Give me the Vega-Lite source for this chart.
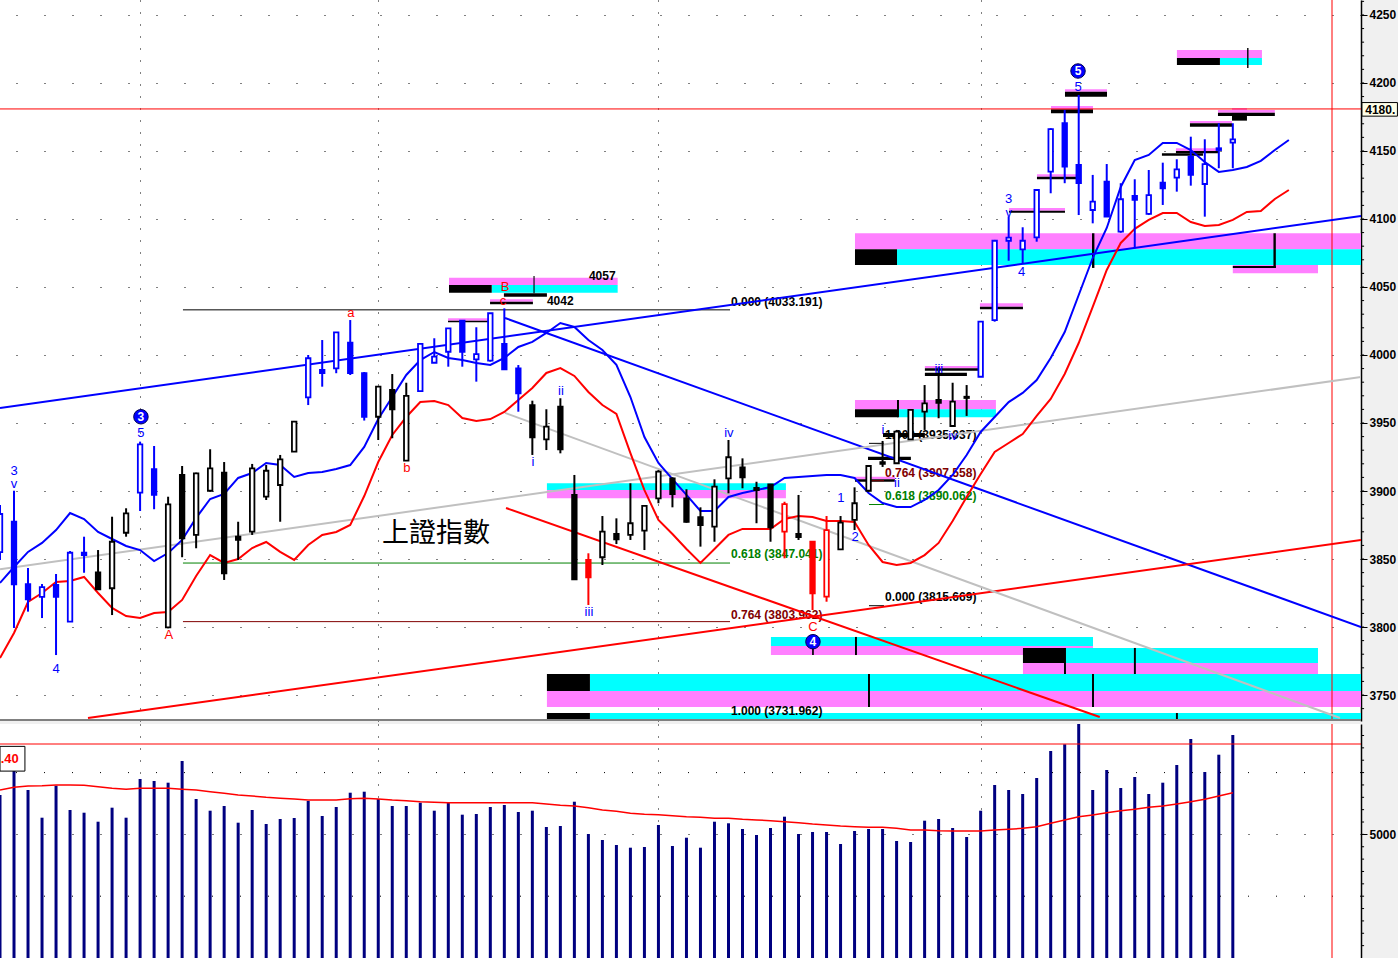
{
"$schema":"https://vega.github.io/schema/vega-lite/v6.json",
"background":"#f0f0f0",
"padding":0,
"spacing":3,
"config":{"view":{"fill":"white","stroke":null},"scale":{"continuousPadding":0}},
"datasets":{
"candles":[
{"i":0,"o":3855.1,"h":3889.7,"l":3849.3,"c":3883.1,"g":"blue"},
{"i":1,"o":3877.4,"h":3900.2,"l":3799.3,"c":3831.4,"g":"blue"},
{"i":2,"o":3831.6,"h":3843.4,"l":3811.3,"c":3820.4,"g":"blue"},
{"i":3,"o":3822.1,"h":3831.6,"l":3806.6,"c":3829.4,"g":"blue"},
{"i":4,"o":3830.9,"h":3839.0,"l":3779.4,"c":3822.1,"g":"blue"},
{"i":5,"o":3803.9,"h":3855.9,"l":3803.7,"c":3854.6,"g":"blue"},
{"i":6,"o":3854.6,"h":3866.4,"l":3839.9,"c":3852.9,"g":"blue"},
{"i":7,"o":3840.2,"h":3856.6,"l":3827.2,"c":3827.7,"g":"black"},
{"i":8,"o":3828.5,"h":3881.1,"l":3808.8,"c":3862.7,"g":"black"},
{"i":9,"o":3869.3,"h":3887.3,"l":3866.4,"c":3883.6,"g":"black"},
{"i":10,"o":3898.8,"h":3936.3,"l":3885.3,"c":3934.3,"g":"blue"},
{"i":11,"o":3916.0,"h":3933.1,"l":3886.6,"c":3897.1,"g":"blue"},
{"i":12,"o":3799.8,"h":3895.8,"l":3799.1,"c":3890.2,"g":"black"},
{"i":13,"o":3911.8,"h":3918.4,"l":3851.3,"c":3865.2,"g":"black"},
{"i":14,"o":3867.7,"h":3913.5,"l":3857.9,"c":3913.0,"g":"black"},
{"i":15,"o":3900.2,"h":3930.7,"l":3899.5,"c":3916.7,"g":"black"},
{"i":16,"o":3913.5,"h":3921.3,"l":3834.6,"c":3839.5,"g":"black"},
{"i":17,"o":3866.4,"h":3877.4,"l":3849.3,"c":3864.0,"g":"black"},
{"i":18,"o":3870.1,"h":3919.9,"l":3867.7,"c":3916.7,"g":"black"},
{"i":19,"o":3895.8,"h":3919.1,"l":3893.4,"c":3914.9,"g":"black"},
{"i":20,"o":3904.4,"h":3926.5,"l":3877.4,"c":3923.3,"g":"black"},
{"i":21,"o":3928.9,"h":3951.5,"l":3928.7,"c":3951.0,"g":"black"},
{"i":22,"o":3968.9,"h":4000.0,"l":3963.2,"c":3997.6,"g":"blue"},
{"i":23,"o":3989.0,"h":4011.0,"l":3976.7,"c":3986.6,"g":"blue"},
{"i":24,"o":3990.2,"h":4016.7,"l":3986.6,"c":4016.7,"g":"blue"},
{"i":25,"o":4009.1,"h":4025.7,"l":3985.3,"c":3986.6,"g":"blue"},
{"i":26,"o":3986.6,"h":3987.5,"l":3951.8,"c":3954.6,"g":"blue"},
{"i":27,"o":3954.6,"h":3976.7,"l":3937.5,"c":3976.7,"g":"black"},
{"i":28,"o":3974.3,"h":3986.0,"l":3938.8,"c":3960.1,"g":"black"},
{"i":29,"o":3922.3,"h":3979.6,"l":3922.3,"c":3969.9,"g":"black"},
{"i":30,"o":3973.5,"h":4008.6,"l":3973.0,"c":4008.1,"g":"blue"},
{"i":31,"o":3994.3,"h":4012.3,"l":3994.3,"c":3998.8,"g":"blue"},
{"i":32,"o":4002.4,"h":4019.6,"l":3991.4,"c":4019.6,"g":"blue"},
{"i":33,"o":4025.2,"h":4025.2,"l":3991.4,"c":4002.4,"g":"blue"},
{"i":34,"o":3996.8,"h":4020.4,"l":3980.4,"c":4000.7,"g":"blue"},
{"i":35,"o":3995.8,"h":4030.7,"l":3995.1,"c":4030.7,"g":"blue"},
{"i":36,"o":4008.1,"h":4034.3,"l":3989.5,"c":3989.5,"g":"blue"},
{"i":37,"o":3990.2,"h":3992.6,"l":3958.3,"c":3971.8,"g":"blue"},
{"i":38,"o":3963.2,"h":3966.4,"l":3926.5,"c":3939.5,"g":"black"},
{"i":39,"o":3938.0,"h":3960.1,"l":3930.1,"c":3947.3,"g":"black"},
{"i":40,"o":3962.0,"h":3968.2,"l":3927.7,"c":3930.7,"g":"black"},
{"i":41,"o":3897.1,"h":3911.8,"l":3834.6,"c":3835.1,"g":"black"},
{"i":42,"o":3849.3,"h":3854.2,"l":3816.2,"c":3836.5,"g":"red"},
{"i":43,"o":3851.3,"h":3881.6,"l":3845.6,"c":3870.1,"g":"black"},
{"i":44,"o":3868.4,"h":3879.9,"l":3861.0,"c":3864.5,"g":"black"},
{"i":45,"o":3867.7,"h":3905.7,"l":3864.0,"c":3876.3,"g":"black"},
{"i":46,"o":3870.8,"h":3889.0,"l":3856.6,"c":3889.0,"g":"black"},
{"i":47,"o":3894.6,"h":3915.4,"l":3891.0,"c":3914.2,"g":"black"},
{"i":48,"o":3909.3,"h":3910.1,"l":3888.0,"c":3897.8,"g":"black"},
{"i":49,"o":3894.6,"h":3901.3,"l":3876.7,"c":3877.4,"g":"black"},
{"i":50,"o":3880.7,"h":3888.0,"l":3859.1,"c":3875.0,"g":"black"},
{"i":51,"o":3873.8,"h":3908.6,"l":3862.7,"c":3903.2,"g":"black"},
{"i":52,"o":3909.3,"h":3937.5,"l":3898.3,"c":3924.8,"g":"black"},
{"i":53,"o":3917.4,"h":3924.0,"l":3902.0,"c":3910.1,"g":"black"},
{"i":54,"o":3902.2,"h":3906.8,"l":3876.3,"c":3900.7,"g":"black"},
{"i":55,"o":3904.9,"h":3905.2,"l":3862.7,"c":3873.3,"g":"black"},
{"i":56,"o":3870.1,"h":3892.1,"l":3850.5,"c":3890.4,"g":"red"},
{"i":57,"o":3868.4,"h":3897.1,"l":3864.0,"c":3866.2,"g":"black"},
{"i":58,"o":3862.7,"h":3862.7,"l":3812.5,"c":3824.8,"g":"red"},
{"i":59,"o":3822.3,"h":3881.6,"l":3818.6,"c":3871.3,"g":"red"},
{"i":60,"o":3857.1,"h":3881.6,"l":3856.6,"c":3876.7,"g":"black"},
{"i":61,"o":3878.7,"h":3902.7,"l":3871.3,"c":3891.0,"g":"black"},
{"i":62,"o":3900.2,"h":3919.1,"l":3899.5,"c":3918.4,"g":"black"},
{"i":63,"o":3921.3,"h":3936.8,"l":3917.7,"c":3919.9,"g":"black"},
{"i":64,"o":3920.4,"h":3944.9,"l":3920.4,"c":3943.6,"g":"black"},
{"i":65,"o":3938.0,"h":3960.1,"l":3937.5,"c":3959.6,"g":"black"},
{"i":66,"o":3958.3,"h":3977.9,"l":3944.9,"c":3964.5,"g":"black"},
{"i":67,"o":3966.9,"h":3991.0,"l":3953.5,"c":3964.9,"g":"black"},
{"i":68,"o":3947.8,"h":3979.6,"l":3947.3,"c":3965.7,"g":"black"},
{"i":69,"o":3968.4,"h":3977.9,"l":3955.2,"c":3969.3,"g":"black"},
{"i":70,"o":3984.0,"h":4024.5,"l":3984.0,"c":4024.5,"g":"blue"},
{"i":71,"o":4025.7,"h":4084.6,"l":4024.5,"c":4084.0,"g":"blue"},
{"i":72,"o":4084.0,"h":4101.7,"l":4069.3,"c":4086.3,"g":"blue"},
{"i":73,"o":4077.7,"h":4093.9,"l":4067.4,"c":4084.0,"g":"blue"},
{"i":74,"o":4086.5,"h":4121.3,"l":4083.3,"c":4121.3,"g":"blue"},
{"i":75,"o":4134.8,"h":4166.7,"l":4118.9,"c":4166.0,"g":"blue"},
{"i":76,"o":4170.4,"h":4180.1,"l":4126.3,"c":4138.5,"g":"blue"},
{"i":77,"o":4139.7,"h":4191.2,"l":4102.9,"c":4126.3,"g":"blue"},
{"i":78,"o":4106.6,"h":4132.4,"l":4096.8,"c":4112.7,"g":"blue"},
{"i":79,"o":4127.4,"h":4140.4,"l":4101.7,"c":4101.7,"g":"blue"},
{"i":80,"o":4090.7,"h":4126.3,"l":4089.9,"c":4114.5,"g":"blue"},
{"i":81,"o":4116.9,"h":4129.2,"l":4078.5,"c":4114.0,"g":"blue"},
{"i":82,"o":4103.7,"h":4136.0,"l":4102.9,"c":4117.6,"g":"blue"},
{"i":83,"o":4126.7,"h":4141.4,"l":4110.3,"c":4122.6,"g":"blue"},
{"i":84,"o":4130.4,"h":4143.9,"l":4120.1,"c":4136.5,"g":"blue"},
{"i":85,"o":4145.8,"h":4160.5,"l":4124.5,"c":4132.4,"g":"blue"},
{"i":86,"o":4125.7,"h":4158.6,"l":4101.7,"c":4140.4,"g":"blue"},
{"i":87,"o":4152.0,"h":4170.4,"l":4137.3,"c":4150.7,"g":"blue"},
{"i":88,"o":4156.1,"h":4170.4,"l":4137.3,"c":4158.6,"g":"blue"}
],
"ma":[
{"i":0,"b":3832.4,"r":3777.2},{"i":1,"b":3844.1,"r":3795.6},{"i":2,"b":3855.2,"r":3818.4},{"i":3,"b":3861.8,"r":3825.0},
{"i":4,"b":3871.3,"r":3833.1},{"i":5,"b":3883.8,"r":3833.8},{"i":6,"b":3879.4,"r":3836.8},{"i":7,"b":3869.9,"r":3825.0},
{"i":8,"b":3864.7,"r":3814.0},{"i":9,"b":3859.6,"r":3808.1},{"i":10,"b":3856.6,"r":3806.6},{"i":11,"b":3848.5,"r":3810.3},
{"i":12,"b":3854.4,"r":3811.0},{"i":13,"b":3864.0,"r":3819.9},{"i":14,"b":3880.2,"r":3837.5},{"i":15,"b":3894.1,"r":3852.9},
{"i":16,"b":3897.8,"r":3847.1},{"i":17,"b":3909.6,"r":3850.0},{"i":18,"b":3913.2,"r":3858.1},{"i":19,"b":3920.6,"r":3862.5},
{"i":20,"b":3919.1,"r":3855.2},{"i":21,"b":3910.3,"r":3849.3},{"i":22,"b":3913.2,"r":3860.3},{"i":23,"b":3914.0,"r":3867.7},
{"i":24,"b":3916.2,"r":3869.9},{"i":25,"b":3919.1,"r":3875.0},{"i":26,"b":3932.4,"r":3896.3},{"i":27,"b":3952.9,"r":3921.3},
{"i":28,"b":3969.1,"r":3941.2},{"i":29,"b":3985.3,"r":3954.4},{"i":30,"b":3996.3,"r":3965.4},{"i":31,"b":4002.2,"r":3966.2},
{"i":32,"b":3997.8,"r":3963.2},{"i":33,"b":3996.3,"r":3953.7},{"i":34,"b":3994.1,"r":3951.5},{"i":35,"b":3992.7,"r":3952.9},
{"i":36,"b":3997.8,"r":3958.1},{"i":37,"b":4005.9,"r":3966.9},{"i":38,"b":4009.6,"r":3975.7},{"i":39,"b":4016.2,"r":3986.8},
{"i":40,"b":4023.5,"r":3990.4},{"i":41,"b":4020.6,"r":3984.6},{"i":42,"b":4011.0,"r":3972.8},{"i":43,"b":4003.7,"r":3963.2},
{"i":44,"b":3992.7,"r":3956.6},{"i":45,"b":3969.1,"r":3927.9},{"i":46,"b":3939.7,"r":3900.7},{"i":47,"b":3920.6,"r":3878.7},
{"i":48,"b":3908.8,"r":3868.4},{"i":49,"b":3897.1,"r":3857.4},{"i":50,"b":3885.3,"r":3847.1},{"i":51,"b":3885.3,"r":3857.4},
{"i":52,"b":3895.6,"r":3867.7},{"i":53,"b":3898.5,"r":3872.1},{"i":54,"b":3900.7,"r":3872.1},{"i":55,"b":3902.9,"r":3872.1},
{"i":56,"b":3909.6,"r":3879.4},{"i":57,"b":3910.3,"r":3881.6},{"i":58,"b":3911.0,"r":3880.9},{"i":59,"b":3911.8,"r":3877.9},
{"i":60,"b":3911.8,"r":3877.9},{"i":61,"b":3909.6,"r":3877.2},{"i":62,"b":3898.5,"r":3860.3},{"i":63,"b":3891.2,"r":3847.8},
{"i":64,"b":3888.2,"r":3845.6},{"i":65,"b":3888.2,"r":3847.1},{"i":66,"b":3893.4,"r":3852.9},{"i":67,"b":3900.7,"r":3861.8},
{"i":68,"b":3911.8,"r":3877.9},{"i":69,"b":3926.5,"r":3895.6},{"i":70,"b":3943.4,"r":3912.5},{"i":71,"b":3954.4,"r":3928.7},
{"i":72,"b":3965.4,"r":3935.3},{"i":73,"b":3972.1,"r":3941.9},{"i":74,"b":3981.6,"r":3955.2},{"i":75,"b":3997.8,"r":3967.7},
{"i":76,"b":4016.9,"r":3986.0},{"i":77,"b":4044.1,"r":4008.8},{"i":78,"b":4071.3,"r":4035.3},{"i":79,"b":4093.4,"r":4062.5},
{"i":80,"b":4123.5,"r":4082.4},{"i":81,"b":4143.4,"r":4092.7},{"i":82,"b":4147.1,"r":4099.3},{"i":83,"b":4155.9,"r":4104.4},
{"i":84,"b":4155.9,"r":4104.4},{"i":85,"b":4150.7,"r":4097.8},{"i":86,"b":4141.9,"r":4094.9},{"i":87,"b":4134.6,"r":4095.6},
{"i":88,"b":4136.0,"r":4099.3},{"i":89,"b":4138.2,"r":4105.2},{"i":90,"b":4142.7,"r":4105.9},{"i":91,"b":4150.7,"r":4114.7},
{"i":92,"b":4158.1,"r":4121.3}
],
"trends":[
{"id":"ub","i":0,"p":3961.0,"k":"blue"},{"id":"ub","i":97.15,"p":4102.2,"k":"blue"},
{"id":"db","i":36.05,"p":4027.2,"k":"blue"},{"id":"db","i":97.15,"p":3800.0,"k":"blue"},
{"id":"ur","i":6.28,"p":3733.1,"k":"red"},{"id":"ur","i":97.15,"p":3864.0,"k":"red"},
{"id":"dr","i":36.12,"p":3887.5,"k":"red"},{"id":"dr","i":78.5,"p":3733.8,"k":"red"},
{"id":"ug","i":0,"p":3842.4,"k":"gray"},{"id":"ug","i":97.15,"p":3983.8,"k":"gray"},
{"id":"dg","i":36.05,"p":3957.4,"k":"gray"},{"id":"dg","i":95.65,"p":3733.1,"k":"gray"}
],
"fibs":[
{"x1":13.06,"x2":52.11,"p":4033.191,"k":"black"},
{"x1":13.06,"x2":52.11,"p":3847.041,"k":"green"},
{"x1":13.06,"x2":52.11,"p":3803.962,"k":"darkred"},
{"x1":62.03,"x2":63.1,"p":3935.037,"k":"black"},
{"x1":62.03,"x2":63.1,"p":3907.558,"k":"darkred"},
{"x1":62.03,"x2":63.1,"p":3890.062,"k":"green"},
{"x1":62.03,"x2":63.1,"p":3815.669,"k":"black"},
{"x1":0,"x2":97.15,"p":4180.9,"k":"red"}
],
"boxes":[
{"x1":84.01,"x2":90.08,"p1":4224.3,"p2":4218.4,"k":"magenta"},
{"x1":87.08,"x2":90.08,"p1":4218.4,"p2":4213.2,"k":"cyan"},
{"x1":84.01,"x2":87.08,"p1":4218.4,"p2":4213.2,"k":"black"},
{"x1":89.02,"x2":89.12,"p1":4225.7,"p2":4211.0,"k":"black"},
{"x1":32.05,"x2":44.09,"p1":4056.8,"p2":4051.5,"k":"magenta"},
{"x1":35.10,"x2":44.09,"p1":4051.5,"p2":4045.8,"k":"cyan"},
{"x1":32.05,"x2":35.10,"p1":4051.5,"p2":4045.8,"k":"black"},
{"x1":35.97,"x2":39.04,"p1":4045.4,"p2":4042.9,"k":"black"},
{"x1":38.08,"x2":38.16,"p1":4058.1,"p2":4045.4,"k":"black"},
{"x1":34.98,"x2":38.04,"p1":4040.9,"p2":4039.2,"k":"magenta"},
{"x1":34.98,"x2":38.04,"p1":4039.2,"p2":4037.3,"k":"black"},
{"x1":31.98,"x2":34.98,"p1":4027.0,"p2":4025.2,"k":"magenta"},
{"x1":31.98,"x2":34.98,"p1":4025.2,"p2":4024.0,"k":"black"},
{"x1":61.03,"x2":97.15,"p1":4089.5,"p2":4077.7,"k":"magenta"},
{"x1":64.03,"x2":97.15,"p1":4077.7,"p2":4066.2,"k":"cyan"},
{"x1":88.0,"x2":94.08,"p1":4066.2,"p2":4060.1,"k":"magenta"},
{"x1":61.03,"x2":64.03,"p1":4077.7,"p2":4066.2,"k":"black"},
{"x1":77.95,"x2":78.12,"p1":4089.5,"p2":4064.0,"k":"black"},
{"x1":90.9,"x2":91.07,"p1":4089.5,"p2":4064.0,"k":"black"},
{"x1":88.0,"x2":91.07,"p1":4065.5,"p2":4064.0,"k":"black"},
{"x1":61.03,"x2":71.09,"p1":3966.9,"p2":3960.1,"k":"magenta"},
{"x1":64.10,"x2":71.09,"p1":3960.1,"p2":3954.2,"k":"cyan"},
{"x1":61.03,"x2":64.10,"p1":3960.1,"p2":3954.2,"k":"black"},
{"x1":64.03,"x2":64.17,"p1":3966.9,"p2":3954.2,"k":"black"},
{"x1":39.04,"x2":56.1,"p1":3905.7,"p2":3900.7,"k":"cyan"},
{"x1":39.04,"x2":56.1,"p1":3900.7,"p2":3894.6,"k":"magenta"},
{"x1":55.03,"x2":78.02,"p1":3792.7,"p2":3786.0,"k":"cyan"},
{"x1":55.03,"x2":78.02,"p1":3786.0,"p2":3779.4,"k":"magenta"},
{"x1":61.03,"x2":61.17,"p1":3792.7,"p2":3779.4,"k":"black"},
{"x1":57.97,"x2":58.09,"p1":3786.0,"p2":3779.4,"k":"black"},
{"x1":76.02,"x2":94.08,"p1":3784.6,"p2":3773.5,"k":"cyan"},
{"x1":73.02,"x2":94.08,"p1":3773.5,"p2":3763.2,"k":"magenta"},
{"x1":73.02,"x2":76.02,"p1":3784.6,"p2":3773.5,"k":"black"},
{"x1":75.95,"x2":76.09,"p1":3784.6,"p2":3763.2,"k":"black"},
{"x1":80.94,"x2":81.08,"p1":3784.6,"p2":3763.2,"k":"black"},
{"x1":42.11,"x2":97.15,"p1":3765.4,"p2":3752.9,"k":"cyan"},
{"x1":39.04,"x2":97.15,"p1":3752.9,"p2":3741.2,"k":"magenta"},
{"x1":42.11,"x2":97.15,"p1":3736.8,"p2":3730.9,"k":"cyan"},
{"x1":39.04,"x2":42.11,"p1":3765.4,"p2":3752.9,"k":"black"},
{"x1":39.04,"x2":42.11,"p1":3736.8,"p2":3730.9,"k":"black"},
{"x1":61.96,"x2":62.1,"p1":3765.4,"p2":3741.2,"k":"black"},
{"x1":77.95,"x2":78.09,"p1":3765.4,"p2":3741.2,"k":"black"},
{"x1":83.94,"x2":84.08,"p1":3736.8,"p2":3730.9,"k":"black"},
{"x1":72.02,"x2":76.02,"p1":4108.1,"p2":4106.1,"k":"magenta"},
{"x1":72.02,"x2":76.02,"p1":4106.1,"p2":4104.6,"k":"black"},
{"x1":69.95,"x2":73.02,"p1":4038.0,"p2":4035.5,"k":"magenta"},
{"x1":69.95,"x2":73.02,"p1":4035.5,"p2":4033.6,"k":"black"},
{"x1":74.02,"x2":77.02,"p1":4132.9,"p2":4131.1,"k":"magenta"},
{"x1":74.02,"x2":77.02,"p1":4131.1,"p2":4129.2,"k":"black"},
{"x1":75.02,"x2":78.02,"p1":4183.1,"p2":4180.7,"k":"magenta"},
{"x1":75.02,"x2":78.02,"p1":4180.7,"p2":4177.7,"k":"black"},
{"x1":76.02,"x2":79.02,"p1":4195.4,"p2":4193.6,"k":"magenta"},
{"x1":76.02,"x2":79.02,"p1":4193.6,"p2":4189.9,"k":"black"},
{"x1":83.94,"x2":86.94,"p1":4152.0,"p2":4150.0,"k":"magenta"},
{"x1":83.94,"x2":86.94,"p1":4150.0,"p2":4148.3,"k":"black"},
{"x1":82.94,"x2":85.87,"p1":4148.3,"p2":4146.5,"k":"black"},
{"x1":84.94,"x2":87.94,"p1":4172.0,"p2":4170.4,"k":"magenta"},
{"x1":84.94,"x2":87.94,"p1":4170.4,"p2":4167.9,"k":"black"},
{"x1":86.94,"x2":91.0,"p1":4180.1,"p2":4178.1,"k":"magenta"},
{"x1":87.94,"x2":89.01,"p1":4181.5,"p2":4178.1,"k":"magenta"},
{"x1":86.94,"x2":91.0,"p1":4178.1,"p2":4175.7,"k":"black"},
{"x1":87.94,"x2":89.01,"p1":4175.7,"p2":4172.3,"k":"black"},
{"x1":66.02,"x2":69.95,"p1":3991.9,"p2":3990.2,"k":"magenta"},
{"x1":66.02,"x2":69.95,"p1":3990.2,"p2":3988.5,"k":"black"},
{"x1":66.02,"x2":69.02,"p1":3987.0,"p2":3984.6,"k":"black"},
{"x1":63.03,"x2":66.02,"p1":3942.6,"p2":3939.7,"k":"black"},
{"x1":61.96,"x2":65.02,"p1":3925.2,"p2":3922.8,"k":"black"},
{"x1":61.03,"x2":63.88,"p1":3910.5,"p2":3908.6,"k":"magenta"},
{"x1":61.03,"x2":63.88,"p1":3908.6,"p2":3906.8,"k":"black"}
],
"waves":[
{"i":1.0,"p":3915.0,"t":"3","k":"blue"},{"i":1.0,"p":3904.9,"t":"v","k":"blue"},
{"i":4.0,"p":3768.9,"t":"4","k":"blue"},{"i":10.06,"p":3942.4,"t":"5","k":"blue"},
{"i":12.06,"p":3794.1,"t":"A","k":"red"},{"i":25.05,"p":4030.6,"t":"a","k":"red"},
{"i":29.05,"p":3916.7,"t":"b","k":"red"},{"i":36.05,"p":4050.2,"t":"B","k":"red"},
{"i":35.9,"p":4039.9,"t":"c","k":"red"},{"i":38.04,"p":3921.5,"t":"i","k":"blue"},
{"i":40.04,"p":3973.8,"t":"ii","k":"blue"},{"i":42.04,"p":3811.3,"t":"iii","k":"blue"},
{"i":52.03,"p":3942.4,"t":"iv","k":"blue"},{"i":58.03,"p":3800.2,"t":"C","k":"red"},
{"i":60.03,"p":3894.6,"t":"1","k":"blue"},{"i":61.03,"p":3866.4,"t":"2","k":"blue"},
{"i":63.03,"p":3944.9,"t":"i","k":"blue"},{"i":64.03,"p":3905.7,"t":"ii","k":"blue"},
{"i":67.02,"p":3989.5,"t":"iii","k":"blue"},{"i":68.02,"p":3940.4,"t":"iv","k":"blue"},
{"i":72.0,"p":4114.7,"t":"3","k":"blue"},{"i":72.0,"p":4104.6,"t":"v","k":"blue"},
{"i":72.93,"p":4061.3,"t":"4","k":"blue"},{"i":76.95,"p":4197.3,"t":"5","k":"blue"}
],
"fibtext":[
{"i":42.04,"p":4058.1,"t":"4057","k":"black"},
{"i":39.04,"p":4039.9,"t":"4042","k":"black"},
{"i":52.18,"p":4039.0,"t":"0.000 (4033.191)","k":"black"},
{"i":52.18,"p":3853.5,"t":"0.618 (3847.041)","k":"green"},
{"i":52.18,"p":3808.8,"t":"0.764 (3803.962)","k":"darkred"},
{"i":52.18,"p":3738.2,"t":"1.000 (3731.962)","k":"black"},
{"i":63.17,"p":3822.0,"t":"0.000 (3815.669)","k":"black"},
{"i":63.17,"p":3896.3,"t":"0.618 (3890.062)","k":"green"},
{"i":63.17,"p":3913.5,"t":"0.764 (3907.558)","k":"darkred"},
{"i":63.17,"p":3941.2,"t":"1.000 (3935.037)","k":"black"}
],
"circles":[
{"i":10.06,"p":3954.6,"t":"3"},{"i":76.95,"p":4208.8,"t":"5"},{"i":58.03,"p":3789.2,"t":"4"}
],
"pticks":[
{"y":3740},{"y":3750},{"y":3760},{"y":3770},{"y":3780},{"y":3790},{"y":3800},{"y":3810},{"y":3820},{"y":3830},
{"y":3840},{"y":3850},{"y":3860},{"y":3870},{"y":3880},{"y":3890},{"y":3900},{"y":3910},{"y":3920},{"y":3930},
{"y":3940},{"y":3950},{"y":3960},{"y":3970},{"y":3980},{"y":3990},{"y":4000},{"y":4010},{"y":4020},{"y":4030},
{"y":4040},{"y":4050},{"y":4060},{"y":4070},{"y":4080},{"y":4090},{"y":4100},{"y":4110},{"y":4120},{"y":4130},
{"y":4140},{"y":4150},{"y":4160},{"y":4170},{"y":4180},{"y":4190},{"y":4200},{"y":4210},{"y":4220},{"y":4230},
{"y":4240},{"y":4250},{"y":4260}
],
"vticks":[
{"y":500},{"y":1000},{"y":1500},{"y":2000},{"y":2500},{"y":3000},{"y":3500},{"y":4000},{"y":4500},{"y":5000},
{"y":5500},{"y":6000},{"y":6500},{"y":7000},{"y":7500},{"y":8000},{"y":8500},{"y":9000}
],
"vol":[
{"i":0,"v":6593,"vm":6796},{"i":1,"v":7807,"vm":6905},{"i":2,"v":6796,"vm":6957},{"i":3,"v":5675,"vm":6970},
{"i":4,"v":6970,"vm":6998},{"i":5,"v":5987,"vm":6998},{"i":6,"v":5877,"vm":6986},{"i":7,"v":5513,"vm":6929},
{"i":8,"v":6080,"vm":6864},{"i":9,"v":5675,"vm":6824},{"i":10,"v":7241,"vm":6864},{"i":11,"v":7160,"vm":6864},
{"i":12,"v":7091,"vm":6864},{"i":13,"v":7969,"vm":6824},{"i":14,"v":6432,"vm":6796},{"i":15,"v":5958,"vm":6727},
{"i":16,"v":6148,"vm":6662},{"i":17,"v":5473,"vm":6593},{"i":18,"v":5987,"vm":6553},{"i":19,"v":5420,"vm":6500},
{"i":20,"v":5623,"vm":6460},{"i":21,"v":5663,"vm":6432},{"i":22,"v":6351,"vm":6391},{"i":23,"v":5744,"vm":6391},
{"i":24,"v":6108,"vm":6391},{"i":25,"v":6686,"vm":6444},{"i":26,"v":6727,"vm":6460},{"i":27,"v":6432,"vm":6432},
{"i":28,"v":6148,"vm":6391},{"i":29,"v":6148,"vm":6363},{"i":30,"v":6282,"vm":6322},{"i":31,"v":5958,"vm":6298},
{"i":32,"v":6310,"vm":6282},{"i":33,"v":5797,"vm":6282},{"i":34,"v":5825,"vm":6282},{"i":35,"v":6108,"vm":6282},
{"i":36,"v":6189,"vm":6282},{"i":37,"v":5906,"vm":6282},{"i":38,"v":5958,"vm":6282},{"i":39,"v":5299,"vm":6229},
{"i":40,"v":5339,"vm":6177},{"i":41,"v":6322,"vm":6148},{"i":42,"v":5016,"vm":6080},{"i":43,"v":4773,"vm":5987},
{"i":44,"v":4571,"vm":5934},{"i":45,"v":4462,"vm":5853},{"i":46,"v":4490,"vm":5813},{"i":47,"v":5380,"vm":5797},
{"i":48,"v":4530,"vm":5756},{"i":49,"v":4866,"vm":5716},{"i":50,"v":4462,"vm":5691},{"i":51,"v":5513,"vm":5651},
{"i":52,"v":5449,"vm":5651},{"i":53,"v":5218,"vm":5610},{"i":54,"v":4975,"vm":5582},{"i":55,"v":5259,"vm":5554},
{"i":56,"v":5716,"vm":5513},{"i":57,"v":5016,"vm":5473},{"i":58,"v":5097,"vm":5420},{"i":59,"v":5097,"vm":5380},
{"i":60,"v":4611,"vm":5339},{"i":61,"v":5137,"vm":5311},{"i":62,"v":5218,"vm":5287},{"i":63,"v":5218,"vm":5287},
{"i":64,"v":4733,"vm":5246},{"i":65,"v":4692,"vm":5178},{"i":66,"v":5554,"vm":5178},{"i":67,"v":5623,"vm":5149},
{"i":68,"v":5259,"vm":5137},{"i":69,"v":4894,"vm":5137},{"i":70,"v":5958,"vm":5137},{"i":71,"v":6998,"vm":5178},
{"i":72,"v":6796,"vm":5206},{"i":73,"v":6634,"vm":5246},{"i":74,"v":7281,"vm":5311},{"i":75,"v":8373,"vm":5449},
{"i":76,"v":8644,"vm":5582},{"i":77,"v":9600,"vm":5716},{"i":78,"v":6796,"vm":5784},{"i":79,"v":7605,"vm":5877},
{"i":80,"v":6877,"vm":5958},{"i":81,"v":7322,"vm":6015},{"i":82,"v":6634,"vm":6096},{"i":83,"v":7091,"vm":6148},
{"i":84,"v":7807,"vm":6229},{"i":85,"v":8859,"vm":6322},{"i":86,"v":7524,"vm":6419},{"i":87,"v":8223,"vm":6553},
{"i":88,"v":9020,"vm":6686}
]
},
"vconcat":[
{
"width":1361,"height":721,
"layer":[
{"data":{"name":"boxes"},"mark":{"type":"rect","clip":true},
 "encoding":{
  "x":{"field":"x1","type":"quantitative","scale":{"domain":[0,97.15],"nice":false,"zero":false,"padding":0},
   "axis":{"values":[10,27,47,70],"grid":true,"gridColor":"#000000","gridDash":[1,11],"gridWidth":1,"labels":false,"ticks":false,"domain":false,"title":null,"minExtent":0,"maxExtent":0}},
  "x2":{"field":"x2"},
  "y":{"field":"p1","type":"quantitative","scale":{"domain":[3730.9,4261],"nice":false,"zero":false},
   "axis":{"orient":"right","title":null,
    "values":[3750,3800,3850,3900,3950,4000,4050,4100,4150,4200,4250],
    "format":"d",
    "labelFont":"Liberation Sans","labelFontSize":12,"labelFontWeight":"bold","labelColor":"#000000","labelPadding":2,
    "labelOverlap":false,"labelFlush":false,"labelBound":false,
    "tickColor":"#000000","tickWidth":1,"tickSize":6,
    "domain":true,"domainColor":"#000000","domainWidth":1.5,
    "grid":true,"gridColor":"#000000","gridDash":[1,27],"gridWidth":1,
    "minExtent":37,"maxExtent":37}},
  "y2":{"field":"p2"},
  "color":{"field":"k","type":"nominal","legend":null,"scale":{"domain":["magenta","cyan","black","green","darkred","red","blue","gray","navy"],"range":["#ff80ff","#00ffff","#000000","#008000","#800000","#ff0000","#0000ff","#c0c0c0","#000080"]}}
 }},
{"data":{"name":"pticks"},"mark":{"type":"rule","color":"#000000","strokeWidth":1},
 "encoding":{
  "x":{"datum":97.15,"type":"quantitative","scale":{"domain":[0,97.15],"nice":false,"zero":false,"padding":0}},
  "x2":{"datum":97.37},
  "y":{"field":"y","type":"quantitative","scale":{"domain":[3730.9,4261],"nice":false,"zero":false}}
 }},
{"data":{"name":"fibs"},"mark":{"type":"rule","strokeWidth":1,"clip":true},
 "encoding":{
  "x":{"field":"x1","type":"quantitative","scale":{"domain":[0,97.15],"nice":false,"zero":false,"padding":0}},
  "x2":{"field":"x2"},
  "y":{"field":"p","type":"quantitative","scale":{"domain":[3730.9,4261],"nice":false,"zero":false}},
  "color":{"field":"k","type":"nominal","legend":null,"scale":{"domain":["magenta","cyan","black","green","darkred","red","blue","gray","navy"],"range":["#ff80ff","#00ffff","#000000","#008000","#800000","#ff0000","#0000ff","#c0c0c0","#000080"]}}
 }},
{"data":{"values":[{}]},"mark":{"type":"rule","color":"#ff0000","strokeWidth":1,"clip":true},
 "encoding":{"x":{"datum":95.08,"type":"quantitative","scale":{"domain":[0,97.15],"nice":false,"zero":false,"padding":0}}}},
{"data":{"name":"fibtext"},"mark":{"type":"text","font":"Liberation Sans","fontSize":12,"fontWeight":"bold","align":"left","baseline":"middle"},
 "encoding":{
  "x":{"field":"i","type":"quantitative","scale":{"domain":[0,97.15],"nice":false,"zero":false,"padding":0}},
  "y":{"field":"p","type":"quantitative","scale":{"domain":[3730.9,4261],"nice":false,"zero":false}},
  "text":{"field":"t"},
  "color":{"field":"k","type":"nominal","legend":null,"scale":{"domain":["magenta","cyan","black","green","darkred","red","blue","gray","navy"],"range":["#ff80ff","#00ffff","#000000","#008000","#800000","#ff0000","#0000ff","#c0c0c0","#000080"]}}
 }},
{"data":{"name":"trends"},"mark":{"type":"line","strokeWidth":2,"clip":true},
 "encoding":{
  "x":{"field":"i","type":"quantitative","scale":{"domain":[0,97.15],"nice":false,"zero":false,"padding":0}},
  "y":{"field":"p","type":"quantitative","scale":{"domain":[3730.9,4261],"nice":false,"zero":false}},
  "detail":{"field":"id","type":"nominal"},
  "color":{"field":"k","type":"nominal","legend":null,"scale":{"domain":["magenta","cyan","black","green","darkred","red","blue","gray","navy"],"range":["#ff80ff","#00ffff","#000000","#008000","#800000","#ff0000","#0000ff","#c0c0c0","#000080"]}}
 }},
{"data":{"name":"ma"},"mark":{"type":"line","color":"#0000ff","strokeWidth":2,"clip":true},
 "encoding":{
  "x":{"field":"i","type":"quantitative","scale":{"domain":[0,97.15],"nice":false,"zero":false,"padding":0}},
  "y":{"field":"b","type":"quantitative","scale":{"domain":[3730.9,4261],"nice":false,"zero":false}}
 }},
{"data":{"name":"ma"},"mark":{"type":"line","color":"#ff0000","strokeWidth":2,"clip":true},
 "encoding":{
  "x":{"field":"i","type":"quantitative","scale":{"domain":[0,97.15],"nice":false,"zero":false,"padding":0}},
  "y":{"field":"r","type":"quantitative","scale":{"domain":[3730.9,4261],"nice":false,"zero":false}}
 }},
{"data":{"name":"candles"},"mark":{"type":"rule","strokeWidth":2,"clip":true},
 "encoding":{
  "x":{"field":"i","type":"quantitative","scale":{"domain":[0,97.15],"nice":false,"zero":false,"padding":0}},
  "y":{"field":"l","type":"quantitative","scale":{"domain":[3730.9,4261],"nice":false,"zero":false}},
  "y2":{"field":"h"},
  "color":{"field":"g","type":"nominal","legend":null,"scale":{"domain":["magenta","cyan","black","green","darkred","red","blue","gray","navy"],"range":["#ff80ff","#00ffff","#000000","#008000","#800000","#ff0000","#0000ff","#c0c0c0","#000080"]}}
 }},
{"data":{"name":"candles"},"mark":{"type":"bar","width":4.5,"strokeWidth":1.8,"orient":"vertical","clip":true},
 "encoding":{
  "x":{"field":"i","type":"quantitative","scale":{"domain":[0,97.15],"nice":false,"zero":false,"padding":0}},
  "y":{"field":"o","type":"quantitative","scale":{"domain":[3730.9,4261],"nice":false,"zero":false}},
  "y2":{"field":"c"},
  "fill":{"condition":{"test":"datum.c > datum.o","value":"#ffffff"},"field":"g","type":"nominal","legend":null,"scale":{"domain":["magenta","cyan","black","green","darkred","red","blue","gray","navy"],"range":["#ff80ff","#00ffff","#000000","#008000","#800000","#ff0000","#0000ff","#c0c0c0","#000080"]}},
  "stroke":{"field":"g","type":"nominal","legend":null,"scale":{"domain":["magenta","cyan","black","green","darkred","red","blue","gray","navy"],"range":["#ff80ff","#00ffff","#000000","#008000","#800000","#ff0000","#0000ff","#c0c0c0","#000080"]}}
 }},
{"data":{"values":[{}]},"mark":{"type":"rule","color":"#808080","strokeWidth":2,"clip":true},
 "encoding":{"y":{"datum":3731.6,"type":"quantitative","scale":{"domain":[3730.9,4261],"nice":false,"zero":false}}}},
{"data":{"name":"waves"},"mark":{"type":"text","font":"Liberation Sans","fontSize":13,"align":"center","baseline":"middle"},
 "encoding":{
  "x":{"field":"i","type":"quantitative","scale":{"domain":[0,97.15],"nice":false,"zero":false,"padding":0}},
  "y":{"field":"p","type":"quantitative","scale":{"domain":[3730.9,4261],"nice":false,"zero":false}},
  "text":{"field":"t"},
  "color":{"field":"k","type":"nominal","legend":null,"scale":{"domain":["magenta","cyan","black","green","darkred","red","blue","gray","navy"],"range":["#ff80ff","#00ffff","#000000","#008000","#800000","#ff0000","#0000ff","#c0c0c0","#000080"]}}
 }},
{"data":{"values":[{"i":31.12,"p":3868.4,"t":"上證指數"}]},"mark":{"type":"text","font":"Noto Sans CJK TC","fontSize":27,"align":"center","baseline":"middle","color":"#000000"},
 "encoding":{
  "x":{"field":"i","type":"quantitative","scale":{"domain":[0,97.15],"nice":false,"zero":false,"padding":0}},
  "y":{"field":"p","type":"quantitative","scale":{"domain":[3730.9,4261],"nice":false,"zero":false}},
  "text":{"field":"t"}
 }},
{"data":{"name":"circles"},"mark":{"type":"point","shape":"circle","filled":true,"size":210,"color":"#0000ff","stroke":"#000050","strokeWidth":1,"opacity":1},
 "encoding":{
  "x":{"field":"i","type":"quantitative","scale":{"domain":[0,97.15],"nice":false,"zero":false,"padding":0}},
  "y":{"field":"p","type":"quantitative","scale":{"domain":[3730.9,4261],"nice":false,"zero":false}}
 }},
{"data":{"name":"circles"},"mark":{"type":"text","font":"Liberation Sans","fontSize":12,"fontWeight":"bold","align":"center","baseline":"middle","color":"#ffffff"},
 "encoding":{
  "x":{"field":"i","type":"quantitative","scale":{"domain":[0,97.15],"nice":false,"zero":false,"padding":0}},
  "y":{"field":"p","type":"quantitative","scale":{"domain":[3730.9,4261],"nice":false,"zero":false}},
  "text":{"field":"t"}
 }},
{"data":{"values":[{"i1":97.22,"i2":99.75,"p1":4185.6,"p2":4175.6}]},"mark":{"type":"rect","fill":"#ffffe8","stroke":"#000000","strokeWidth":1},
 "encoding":{
  "x":{"field":"i1","type":"quantitative","scale":{"domain":[0,97.15],"nice":false,"zero":false,"padding":0}},
  "x2":{"field":"i2"},
  "y":{"field":"p1","type":"quantitative","scale":{"domain":[3730.9,4261],"nice":false,"zero":false}},
  "y2":{"field":"p2"}
 }},
{"data":{"values":[{"i":97.45,"p":4180.4,"t":"4180."}]},"mark":{"type":"text","font":"Liberation Sans","fontSize":12,"fontWeight":"bold","align":"left","baseline":"middle","color":"#000000"},
 "encoding":{
  "x":{"field":"i","type":"quantitative","scale":{"domain":[0,97.15],"nice":false,"zero":false,"padding":0}},
  "y":{"field":"p","type":"quantitative","scale":{"domain":[3730.9,4261],"nice":false,"zero":false}},
  "text":{"field":"t"}
 }}
]
},
{
"width":1361,"height":234,
"layer":[
{"data":{"name":"vol"},"mark":{"type":"bar","width":3,"color":"#000080","orient":"vertical","clip":true},
 "encoding":{
  "x":{"field":"i","type":"quantitative","scale":{"domain":[0,97.15],"nice":false,"zero":false,"padding":0},
   "axis":{"values":[10,27,47,70],"grid":true,"gridColor":"#000000","gridDash":[1,11],"gridWidth":1,"labels":false,"ticks":false,"domain":false,"title":null,"minExtent":0,"maxExtent":0}},
  "y":{"field":"v","type":"quantitative","scale":{"domain":[0,9465],"nice":false,"zero":true},
   "axis":{"orient":"right","title":null,
    "values":[5000],
    "format":"d",
    "labelFont":"Liberation Sans","labelFontSize":12,"labelFontWeight":"bold","labelColor":"#000000","labelPadding":2,
    "labelOverlap":false,"labelFlush":false,"labelBound":false,
    "tickColor":"#000000","tickWidth":1,"tickSize":6,
    "domain":true,"domainColor":"#000000","domainWidth":1.5,
    "grid":true,"gridColor":"#000000","gridDash":[1,27],"gridWidth":1,
    "minExtent":37,"maxExtent":37}}
 }},
{"data":{"name":"vticks"},"mark":{"type":"rule","color":"#000000","strokeWidth":1},
 "encoding":{
  "x":{"datum":97.15,"type":"quantitative","scale":{"domain":[0,97.15],"nice":false,"zero":false,"padding":0}},
  "x2":{"datum":97.37},
  "y":{"field":"y","type":"quantitative","scale":{"domain":[0,9465],"nice":false,"zero":true}}
 }},
{"data":{"values":[{"y":2500},{"y":7500}]},"mark":{"type":"rule","color":"#000000","strokeWidth":1,"strokeDash":[1,27],"clip":true},
 "encoding":{
  "y":{"field":"y","type":"quantitative","scale":{"domain":[0,9465],"nice":false,"zero":true}}
 }},
{"data":{"name":"vol"},"mark":{"type":"line","color":"#ff0000","strokeWidth":1.5,"clip":true},
 "encoding":{
  "x":{"field":"i","type":"quantitative","scale":{"domain":[0,97.15],"nice":false,"zero":false,"padding":0}},
  "y":{"field":"vm","type":"quantitative","scale":{"domain":[0,9465],"nice":false,"zero":true}}
 }},
{"data":{"values":[{}]},"mark":{"type":"rule","color":"#ff0000","strokeWidth":1,"clip":true},
 "encoding":{"y":{"datum":8656,"type":"quantitative","scale":{"domain":[0,9465],"nice":false,"zero":true}}}},
{"data":{"values":[{}]},"mark":{"type":"rule","color":"#ff0000","strokeWidth":1,"clip":true},
 "encoding":{"x":{"datum":95.08,"type":"quantitative","scale":{"domain":[0,97.15],"nice":false,"zero":false,"padding":0}}}},
{"data":{"values":[{"i1":0,"i2":1.78,"v1":8560,"v2":7560}]},"mark":{"type":"rect","fill":"#ffffff","stroke":"#000000","strokeWidth":1,"clip":true},
 "encoding":{
  "x":{"field":"i1","type":"quantitative","scale":{"domain":[0,97.15],"nice":false,"zero":false,"padding":0}},
  "x2":{"field":"i2"},
  "y":{"field":"v1","type":"quantitative","scale":{"domain":[0,9465],"nice":false,"zero":true}},
  "y2":{"field":"v2"}
 }},
{"data":{"values":[{"i":0.05,"v":8060,"t":".40"}]},"mark":{"type":"text","font":"Liberation Sans","fontSize":13,"fontWeight":"bold","align":"left","baseline":"middle","color":"#ff0000"},
 "encoding":{
  "x":{"field":"i","type":"quantitative","scale":{"domain":[0,97.15],"nice":false,"zero":false,"padding":0}},
  "y":{"field":"v","type":"quantitative","scale":{"domain":[0,9465],"nice":false,"zero":true}},
  "text":{"field":"t"}
 }}
]
}
]
}
